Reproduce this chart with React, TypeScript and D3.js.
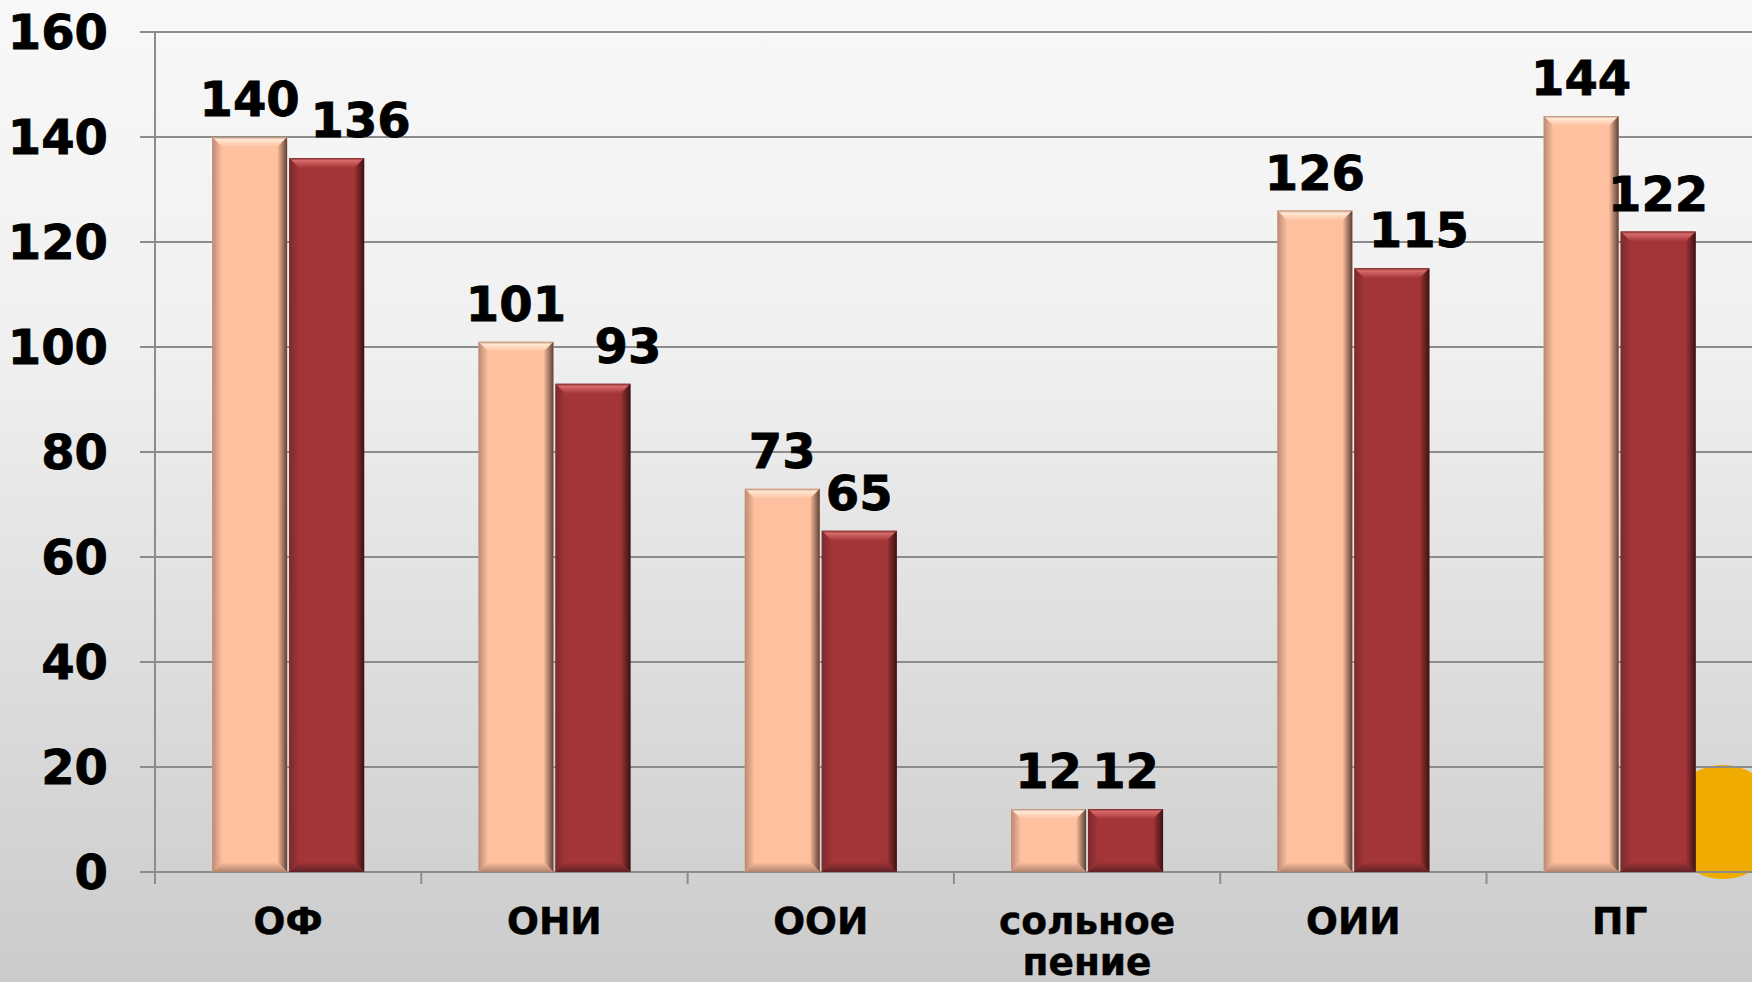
import React from "react";
import * as d3 from "d3";

const categories = ["ОФ", "ОНИ", "ООИ", "сольное пение", "ОИИ", "ПГ"];
const series1 = [140, 101, 73, 12, 126, 144];
const series2 = [136, 93, 65, 12, 115, 122];
const yTicks = [0, 20, 40, 60, 80, 100, 120, 140, 160];
const seriesKeys = ["s1", "s2"];

// horizontal nudges of the second series' labels (as placed in the reference)
const labelShift2 = [34, 35, 0, 0, 27, 0];

const W = 1752;
const H = 982;
const FONT = "'DejaVu Sans', Verdana, sans-serif";

type Pal = { face: string; top: string; left: string; right: string; bottom: string };
const palettes: Pal[] = [
  { face: "#ffc09f", top: "#ffe8d4", left: "#b88a72", right: "#5c4034", bottom: "#b0836c" },
  { face: "#a33538", top: "#d96a6a", left: "#7a2a2c", right: "#3a1214", bottom: "#5e2224" },
];

function Bar({ x, y, w, h, idx }: { x: number; y: number; w: number; h: number; idx: number }) {
  const b = Math.min(10, h / 2, w / 2);
  const p = `p${idx}`;
  const pts = (arr: number[][]) => arr.map((q) => q.join(",")).join(" ");
  return (
    <g>
      <rect x={x} y={y} width={w} height={h} fill={palettes[idx].face} />
      <polygon points={pts([[x, y], [x + w, y], [x + w - b, y + b], [x + b, y + b]])} fill={`url(#${p}top)`} />
      <polygon points={pts([[x, y], [x + b, y + b], [x + b, y + h - b], [x, y + h]])} fill={`url(#${p}left)`} />
      <polygon points={pts([[x + w, y], [x + w, y + h], [x + w - b, y + h - b], [x + w - b, y + b]])} fill={`url(#${p}right)`} />
      <polygon points={pts([[x, y + h], [x + w, y + h], [x + w - b, y + h - b], [x + b, y + h - b]])} fill={`url(#${p}bottom)`} />
    </g>
  );
}

export default function App() {
  const plotLeft = 155;
  const catW = 266.3;
  const x0 = d3.scaleBand<string>().domain(categories).range([plotLeft, plotLeft + catW * categories.length]).paddingInner(0).paddingOuter(0);
  const x1 = d3.scaleBand<string>().domain(seriesKeys).range([0, x0.bandwidth()]).paddingInner(0.026).paddingOuter(0.742);
  const y = d3.scaleLinear().domain([0, 160]).range([872, 32]);
  const data = [series1, series2];

  return (
    <svg width={W} height={H} style={{ position: "fixed", left: 0, top: 0 }} xmlns="http://www.w3.org/2000/svg">
      <defs>
        <linearGradient id="bg" x1="0" y1="0" x2="0" y2="1">
          <stop offset="0" stopColor="#f8f8f8" />
          <stop offset="0.35" stopColor="#f0f0f0" />
          <stop offset="1" stopColor="#cbcbcb" />
        </linearGradient>
        {palettes.map((pal, i) => (
          <React.Fragment key={i}>
            <linearGradient id={`p${i}top`} x1="0" y1="0" x2="0" y2="1">
              <stop offset="0" stopColor={pal.left} />
              <stop offset="0.25" stopColor={pal.top} />
              <stop offset="1" stopColor={pal.face} />
            </linearGradient>
            <linearGradient id={`p${i}left`} x1="0" y1="0" x2="1" y2="0">
              <stop offset="0" stopColor={pal.left} />
              <stop offset="1" stopColor={pal.face} />
            </linearGradient>
            <linearGradient id={`p${i}right`} x1="0" y1="0" x2="1" y2="0">
              <stop offset="0" stopColor={pal.face} />
              <stop offset="1" stopColor={pal.right} />
            </linearGradient>
            <linearGradient id={`p${i}bottom`} x1="0" y1="0" x2="0" y2="1">
              <stop offset="0" stopColor={pal.face} />
              <stop offset="1" stopColor={pal.bottom} />
            </linearGradient>
          </React.Fragment>
        ))}
      </defs>
      <rect x={0} y={0} width={W} height={H} fill="url(#bg)" />
      <circle cx={1723} cy={822} r={57} fill="#f0ab00" />
      {yTicks.map((t) => (
        <line key={t} x1={140} x2={W} y1={y(t)} y2={y(t)} stroke="#8c8c8c" strokeWidth={2} />
      ))}
      <line x1={plotLeft} x2={plotLeft} y1={y(160)} y2={884} stroke="#8c8c8c" strokeWidth={2} />
      {categories.map((c) => (
        <line key={c} x1={x0(c)!} x2={x0(c)!} y1={y(0)} y2={884} stroke="#8c8c8c" strokeWidth={2} />
      ))}
      {yTicks.map((t) => (
        <text key={t} x={108} y={y(t) + 17} textAnchor="end" fontFamily={FONT} fontWeight="bold" fontSize={48} fill="#000" stroke="#000" strokeWidth={0.8}>
          {t}
        </text>
      ))}
      {categories.map((c, ci) =>
        seriesKeys.map((s, si) => {
          const v = data[si][ci];
          const bx = x0(c)! + x1(s)!;
          return <Bar key={c + s} x={bx} y={y(v)} w={x1.bandwidth()} h={y(0) - y(v)} idx={si} />;
        })
      )}
      {categories.map((c, ci) =>
        seriesKeys.map((s, si) => {
          const v = data[si][ci];
          const cx = x0(c)! + x1(s)! + x1.bandwidth() / 2 + (si === 1 ? labelShift2[ci] : 0);
          return (
            <text key={"l" + c + s} x={cx} y={y(v) - 21} textAnchor="middle" fontFamily={FONT} fontWeight="bold" fontSize={48} fill="#000" stroke="#000" strokeWidth={0.8}>
              {v}
            </text>
          );
        })
      )}
      {categories.map((c) => {
        const words = c.split(" ");
        const cx = x0(c)! + x0.bandwidth() / 2;
        return (
          <text key={"x" + c} x={cx} y={934} textAnchor="middle" fontFamily={FONT} fontWeight="bold" fontSize={37.5} fill="#000" stroke="#000" strokeWidth={0.5}>
            {words.map((wd, i) => (
              <tspan key={i} x={cx} dy={i === 0 ? 0 : 41}>
                {wd}
              </tspan>
            ))}
          </text>
        );
      })}
    </svg>
  );
}
